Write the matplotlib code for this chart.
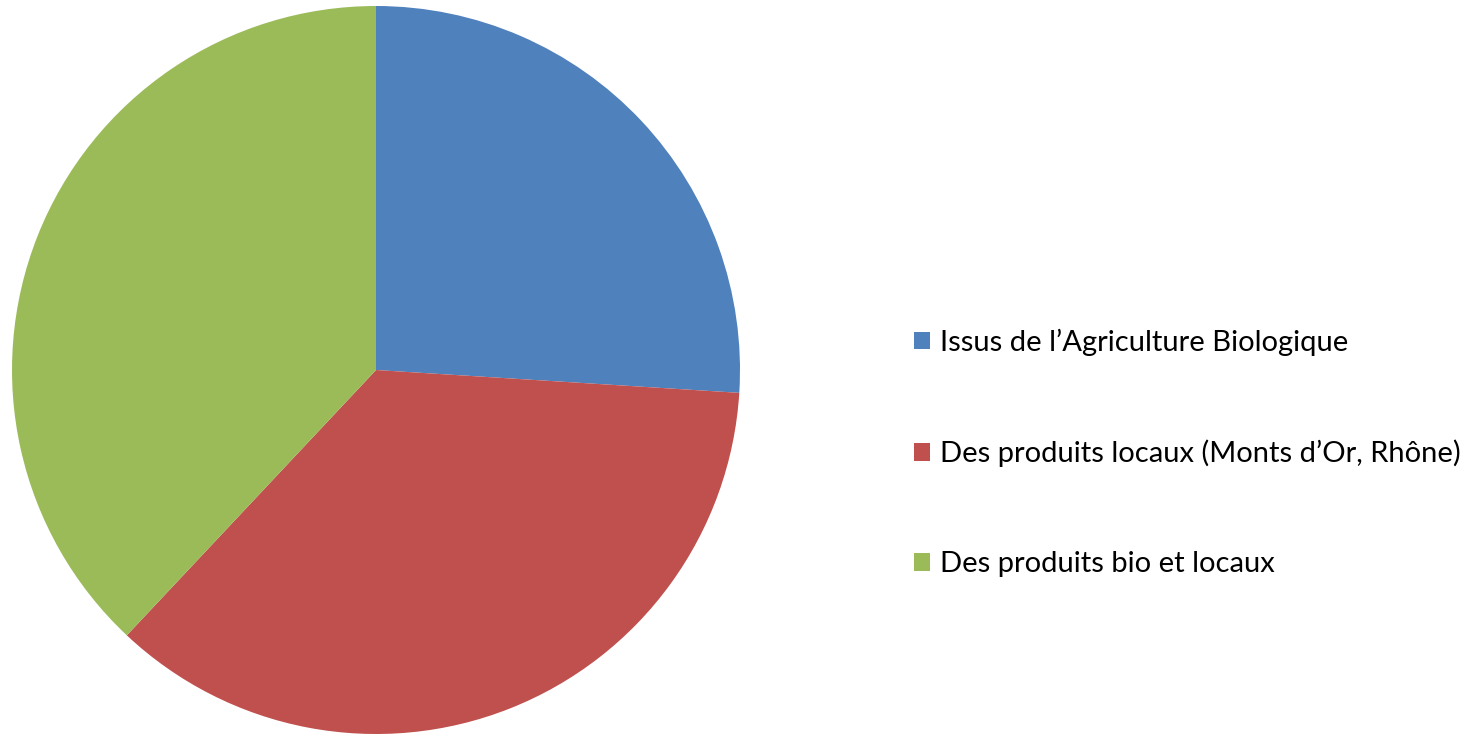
import matplotlib.pyplot as plt
from matplotlib.patches import Patch

labels = ["Issus de l\u2019Agriculture Biologique",
          "Des produits locaux (Monts d\u2019Or, Rh\u00f4ne)",
          "Des produits bio et locaux"]
values = [26, 36, 38]
colors = ["#4F81BD", "#C0504D", "#9BBB59"]

plt.rcParams['font.family'] = ['Lato', 'DejaVu Sans']

fig = plt.figure(figsize=(14.74, 7.35), dpi=100)
ax = fig.add_axes([12 / 1474, 1 / 735, 728 / 1474, 728 / 735])
ax.pie(values, colors=colors, startangle=90, counterclock=False, radius=1,
       wedgeprops=dict(linewidth=0))
ax.set_xlim(-1, 1)
ax.set_ylim(-1, 1)
ax.set_aspect('equal')
ax.axis('off')

handles = [Patch(facecolor=c, edgecolor='none') for c in colors]
fig.legend(handles, labels, loc='center left', bbox_to_anchor=(888 / 1474, 1 - 453 / 735),
           frameon=False, fontsize=21, handlelength=0.55, handleheight=0.55,
           handletextpad=0.35, labelspacing=2.88)

fig.savefig("out.png", dpi=100)
